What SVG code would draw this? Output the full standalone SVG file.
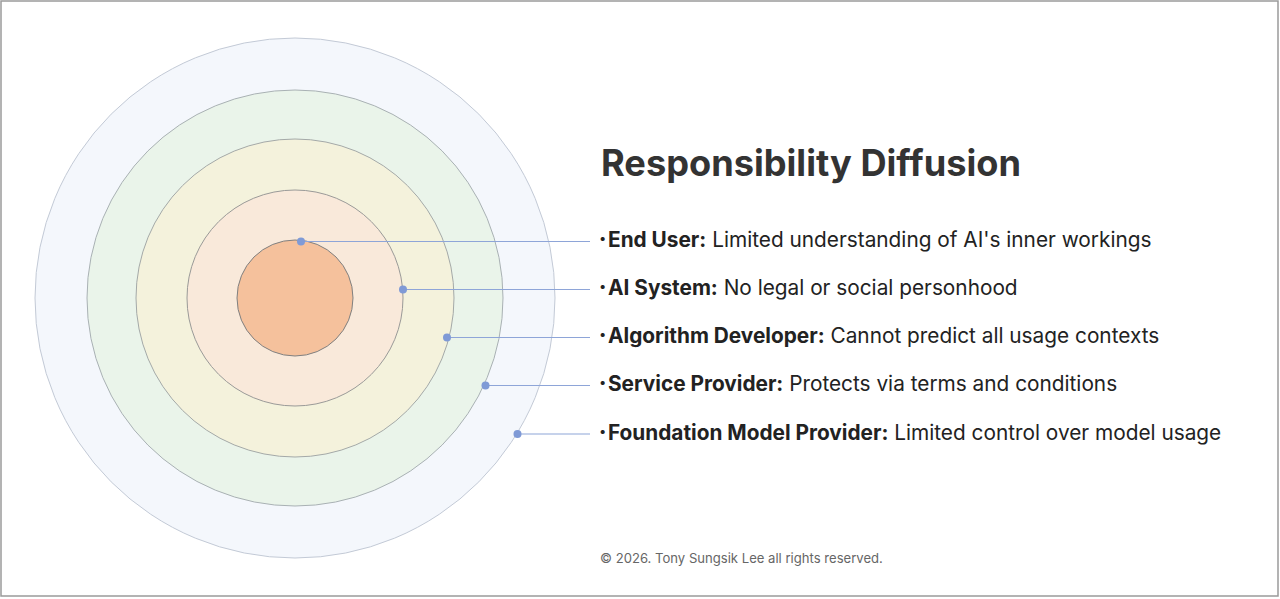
<svg xmlns="http://www.w3.org/2000/svg" width="1280" height="599" viewBox="0 0 1280 599">
<style>
.ring{stroke-width:1}
.lbl{font-family:Inter,"Liberation Sans",sans-serif;font-size:20.8px;fill:#222}
.lbl .b{font-weight:700}
.bul{font-size:13px}
.con line{stroke:#8ea5d8;stroke-width:1.2}
.con circle{fill:#7f9ad6}
</style>
<rect x="0" y="0" width="1280" height="599" fill="#fff"/>
<rect x="1" y="1" width="1277" height="595" fill="none" stroke="#9a9a9a" stroke-width="1.5"/>
<g id="ring-foundation"><circle class="ring" cx="295" cy="298" r="260" fill="#f4f7fc" stroke="#c3cad6"/></g>
<g id="ring-service"><circle class="ring" cx="295" cy="298" r="208" fill="#eaf4ea" stroke="#a9b1b4"/></g>
<g id="ring-algorithm"><circle class="ring" cx="295" cy="298" r="159" fill="#f4f2dc" stroke="#a4a9a8"/></g>
<g id="ring-ai"><circle class="ring" cx="295" cy="298" r="108" fill="#f9e9da" stroke="#9a9a98"/></g>
<g id="core-user"><circle class="ring" cx="295" cy="298" r="58" fill="#f5c19c" stroke="#808080"/></g>
<g id="connectors" class="con">
<line x1="301" y1="241.5" x2="590" y2="241.5"/><circle cx="301" cy="241.5" r="4"/>
<line x1="403" y1="289.5" x2="590" y2="289.5"/><circle cx="403" cy="289.5" r="4"/>
<line x1="447" y1="337.5" x2="590" y2="337.5"/><circle cx="447" cy="337.5" r="4"/>
<line x1="485.5" y1="385.5" x2="590" y2="385.5"/><circle cx="485.5" cy="385.5" r="4"/>
<line x1="517.5" y1="434" x2="590" y2="434"/><circle cx="517.5" cy="434" r="4"/>
</g>
<g id="title"><text x="601" y="176" font-family="Inter,'Liberation Sans',sans-serif" font-size="36.2" font-weight="700" fill="#333">Responsibility Diffusion</text></g>
<g id="label-user"><text class="lbl" x="599" y="247"><tspan class="bul" y="242.5">•</tspan><tspan class="b" x="608" y="247">End User:</tspan> Limited understanding of AI's inner workings</text></g>
<g id="label-ai"><text class="lbl" x="599" y="295"><tspan class="bul" y="290.5">•</tspan><tspan class="b" x="608" y="295">AI System:</tspan> No legal or social personhood</text></g>
<g id="label-algo"><text class="lbl" x="599" y="343"><tspan class="bul" y="338.5">•</tspan><tspan class="b" x="608" y="343">Algorithm Developer:</tspan> Cannot predict all usage contexts</text></g>
<g id="label-service"><text class="lbl" x="599" y="391"><tspan class="bul" y="386.5">•</tspan><tspan class="b" x="608" y="391">Service Provider:</tspan> Protects via terms and conditions</text></g>
<g id="label-foundation"><text class="lbl" x="599" y="440"><tspan class="bul" y="435.5">•</tspan><tspan class="b" x="608" y="440">Foundation Model Provider:</tspan> Limited control over model usage</text></g>
<g id="footer"><text x="600" y="563" font-family="Inter,'Liberation Sans',sans-serif" font-size="13.1" fill="#666">© 2026. Tony Sungsik Lee all rights reserved.</text></g>
</svg>
